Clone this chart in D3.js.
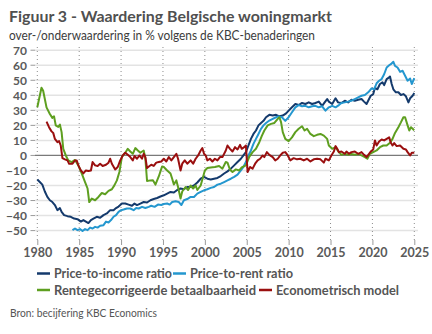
<!DOCTYPE html>
<html><head><meta charset="utf-8">
<script src="https://cdn.jsdelivr.net/npm/d3@7"></script>
<style>
html,body{margin:0;padding:0;background:#fff;}
svg{display:block;font-family:Lato,"Open Sans",sans-serif;}
</style></head>
<body><svg id="c" width="432" height="334"></svg>
<script>
// ---- data (year, % over-/undervaluation) ----
const priceToIncome = [[1980,-16],[1980.3,-17.7],[1980.6,-19.4],[1980.9,-24],[1981.2,-27.6],[1981.5,-29.8],[1981.8,-31],[1982.1,-33],[1982.4,-36.4],[1982.7,-35],[1982.9,-37.5],[1983.2,-39.7],[1983.6,-40.4],[1984,-40.8],[1984.4,-42],[1984.8,-42.4],[1985.2,-44],[1985.5,-43],[1985.8,-44],[1986.1,-45],[1986.4,-43],[1986.7,-42],[1987.1,-40.8],[1987.5,-41.5],[1987.9,-39.7],[1988.3,-38.6],[1988.7,-36.4],[1989.1,-36.4],[1989.4,-35],[1989.7,-34],[1990.1,-32],[1990.5,-32],[1990.9,-32.7],[1991.3,-33.5],[1991.6,-32],[1991.9,-33],[1992.3,-32],[1992.7,-31],[1993.1,-31.3],[1993.5,-29.8],[1993.9,-29],[1994.3,-28.3],[1994.7,-27.3],[1995.1,-26.5],[1995.5,-25.4],[1995.9,-24.3],[1996.3,-24.7],[1996.7,-23],[1997.1,-22],[1997.5,-22.5],[1997.9,-21],[1998.3,-21],[1998.7,-20],[1999.1,-18],[1999.5,-15.5],[1999.9,-14.3],[2000.3,-15.5],[2000.7,-16],[2001.1,-15.5],[2001.5,-15],[2001.9,-13.7],[2002.3,-12],[2002.7,-10.6],[2003.1,-8.8],[2003.5,-6.6],[2003.9,-4.4],[2004.3,-2.2],[2004.6,0],[2004.9,2.2],[2005.2,6.6],[2005.5,11],[2005.8,14.3],[2006.1,16.6],[2006.4,20],[2006.7,21.6],[2007,23],[2007.3,25.4],[2007.7,27],[2008.1,26.5],[2008.5,27],[2008.9,26],[2009.3,26.5],[2009.7,28],[2010,29.8],[2010.4,32],[2010.8,34.2],[2011.2,33.5],[2011.6,34.9],[2012,34.2],[2012.4,35.3],[2012.8,34.2],[2013.2,34.9],[2013.6,35.8],[2014,33],[2014.3,35.3],[2014.6,37.5],[2014.8,35.8],[2015.2,34.2],[2015.6,38],[2015.9,35.3],[2016.3,34.9],[2016.7,36.4],[2017.1,35.3],[2017.5,37],[2017.9,36.4],[2018.3,37],[2018.7,37.5],[2019,35.8],[2019.3,34.2],[2019.6,37.5],[2019.8,39.7],[2020.1,40.8],[2020.3,45],[2020.6,44],[2020.9,47.5],[2021.2,48.6],[2021.4,46.8],[2021.7,50.8],[2022,51.9],[2022.1,52.5],[2022.3,47.5],[2022.5,44],[2022.8,42],[2023.1,42],[2023.4,40.2],[2023.7,40.8],[2024,39.3],[2024.3,35.3],[2024.5,38],[2024.8,39.7],[2025,41.5]];
const priceToRent = [[1984.2,-49.7],[1984.5,-48.6],[1984.8,-49.7],[1985.1,-49],[1985.4,-50.3],[1985.7,-49],[1986,-49.7],[1986.3,-48],[1986.6,-48.6],[1986.9,-47.5],[1987.2,-48],[1987.5,-46.8],[1987.9,-46.4],[1988.2,-44],[1988.5,-44.6],[1988.8,-43],[1989.1,-40.8],[1989.4,-39.7],[1989.7,-37.5],[1990,-36.4],[1990.3,-36],[1990.7,-35.3],[1991.1,-35.3],[1991.5,-36.4],[1991.8,-35],[1992.1,-35.3],[1992.5,-34.2],[1992.9,-35],[1993.3,-34.2],[1993.6,-33.5],[1994,-34.2],[1994.4,-32.7],[1994.8,-33],[1995.1,-32.3],[1995.5,-32],[1995.8,-32.7],[1996.1,-31],[1996.5,-30.5],[1996.9,-31],[1997.2,-33],[1997.5,-29.8],[1997.9,-29],[1998.3,-27.6],[1998.7,-27.6],[1999.1,-25.4],[1999.5,-24.3],[1999.9,-23.2],[2000.3,-22.5],[2000.7,-21.6],[2001.1,-21],[2001.5,-19.4],[2001.9,-18.8],[2002.3,-17.7],[2002.7,-16.6],[2003.1,-15.5],[2003.5,-14.3],[2003.9,-12.8],[2004.3,-10],[2004.6,-7.7],[2004.9,-4.4],[2005.2,0],[2005.5,3.3],[2005.8,7.7],[2006.1,11],[2006.4,14.3],[2006.7,17.7],[2007,20],[2007.3,21.6],[2007.7,23.2],[2008.1,24.3],[2008.5,25.4],[2008.8,26],[2009.2,25.4],[2009.6,23],[2010,25.4],[2010.4,28.7],[2010.8,32],[2011.2,33.5],[2011.6,32.7],[2012,33],[2012.4,32],[2012.8,32.7],[2013.2,33],[2013.6,32],[2014,32.7],[2014.4,29.8],[2014.8,32],[2015.2,33],[2015.6,32],[2016,33.5],[2016.3,34.9],[2016.7,35.3],[2017.1,35.8],[2017.5,36.4],[2017.9,37.5],[2018.3,38.6],[2018.7,39.7],[2019.1,40.2],[2019.5,42],[2019.9,44.6],[2020.2,44],[2020.5,48],[2020.8,49.7],[2021.1,50.8],[2021.4,54],[2021.7,58.5],[2022,60],[2022.2,60.7],[2022.5,62.3],[2022.7,59.6],[2023,58.5],[2023.3,55.6],[2023.6,56.3],[2023.9,53],[2024.2,49.7],[2024.5,51.2],[2024.7,47.5],[2025,51.5]];
const affordability = [[1980,32],[1980.5,45],[1980.7,43],[1981.1,32],[1981.5,27.6],[1981.8,25],[1982,26],[1982.2,20],[1982.5,19],[1982.7,20.5],[1982.9,15.5],[1983.1,4.4],[1983.4,0],[1983.7,-3.3],[1984.1,-4.4],[1984.5,-3],[1984.9,-6.6],[1985.3,-12],[1985.7,-17.7],[1986,-22],[1986.2,-31],[1986.5,-28.7],[1986.9,-29.8],[1987.3,-27.6],[1987.7,-25],[1988.1,-25.8],[1988.5,-23.6],[1988.9,-22.5],[1989.2,-19.9],[1989.5,-16.6],[1989.8,-11],[1990.1,-1],[1990.5,1.8],[1990.8,4.4],[1991.1,2.6],[1991.4,1.1],[1991.7,4.9],[1992,3.3],[1992.3,1.8],[1992.7,3.3],[1992.9,-2.2],[1993.1,-17],[1993.5,-16.6],[1993.8,-16.5],[1994.1,-19.4],[1994.5,-14],[1994.9,-7.3],[1995.1,-7.7],[1995.5,-10],[1995.9,-12],[1996.1,-15.5],[1996.3,-19.4],[1996.6,-16.6],[1996.8,-21],[1997.1,-28.7],[1997.3,-24],[1997.7,-21],[1998,-23],[1998.3,-20],[1998.6,-22],[1998.9,-20],[1999.1,-23],[1999.5,-20],[2000,-10],[2000.3,-8.4],[2000.7,-8],[2001.2,-7.7],[2001.7,-7],[2002.1,-8.8],[2002.5,-4.4],[2002.7,-4.8],[2003,-9.5],[2003.3,-11],[2003.7,-9.3],[2004.1,-10],[2004.4,-8],[2004.9,-6.6],[2005.3,-1],[2005.7,2.2],[2006.1,4.4],[2006.5,8.8],[2006.8,13],[2007.1,16.6],[2007.5,20],[2007.9,21],[2008.3,21.6],[2008.7,24.3],[2008.9,25.4],[2009.1,22],[2009.3,15.5],[2009.6,11],[2010,9.5],[2010.4,12],[2010.8,15.5],[2011.2,17.7],[2011.6,19.4],[2011.9,16.6],[2012.2,17.7],[2012.6,14.3],[2013,12.8],[2013.4,13.7],[2013.8,14.3],[2014.2,13.2],[2014.6,11],[2014.8,6.6],[2015.2,4.4],[2015.6,5.5],[2016,2.2],[2016.3,0.4],[2016.7,1.1],[2017.1,0.4],[2017.5,0.9],[2017.9,0.4],[2018.3,1],[2018.7,0],[2019.1,-1.1],[2019.4,-2.2],[2019.7,1.1],[2020.1,2.2],[2020.5,3.3],[2020.9,5.5],[2021.3,6.6],[2021.7,6.6],[2022.1,8.4],[2022.4,11],[2022.7,15],[2023.1,18.8],[2023.4,22],[2023.7,25.4],[2023.9,25.4],[2024.2,20],[2024.4,16.6],[2024.6,18.8],[2024.9,17.2],[2025,16.8]];
const econometric = [[1981.1,22.5],[1981.4,18.8],[1981.7,16],[1981.9,15],[1982.1,11],[1982.4,8.8],[1982.6,9.5],[1982.8,6.6],[1983,-1.8],[1983.3,-2.6],[1983.6,-3.3],[1983.8,-5.5],[1984.2,-5.5],[1984.5,-3.3],[1984.7,-3.3],[1984.9,-6.6],[1985.2,-10],[1985.5,-12],[1985.8,-10],[1986.1,-10.4],[1986.4,-10],[1986.6,-4.4],[1986.9,-6.6],[1987.2,-7],[1987.5,-5.5],[1987.8,-7],[1988.2,-6.2],[1988.5,-4.8],[1988.7,-2.2],[1988.9,-5.5],[1989.3,-9.3],[1989.6,-7.7],[1989.9,-3.3],[1990.2,0],[1990.5,1.8],[1990.8,0.4],[1991.1,-1.1],[1991.4,-3.3],[1991.6,-0.4],[1991.9,-2.2],[1992.2,0],[1992.5,-2.2],[1992.7,1.1],[1992.9,-1.1],[1993.1,-8.4],[1993.4,-7],[1993.6,-6.2],[1993.9,-7],[1994.2,-4.8],[1994.5,-4.4],[1994.8,-4],[1995.1,-2.2],[1995.4,-4],[1995.7,-1.1],[1996,-3.3],[1996.3,-1.1],[1996.6,1.1],[1996.8,-2.2],[1997.1,-10],[1997.3,-5.5],[1997.6,-3.3],[1997.9,-5.5],[1998.3,-3.3],[1998.6,-5.5],[1998.9,-2.2],[1999.2,0],[1999.5,3.3],[1999.7,4.9],[1999.9,1.1],[2000.1,0],[2000.3,-3.3],[2000.6,-2.2],[2000.9,-4],[2001.2,-2.2],[2001.5,-3.3],[2001.8,-1.1],[2002.1,-1.1],[2002.5,3.3],[2002.7,6.6],[2003,4.4],[2003.3,2.6],[2003.6,5.5],[2003.9,4],[2004.2,7],[2004.4,4.4],[2004.7,5.5],[2004.9,6.6],[2005.1,-11],[2005.4,-7.7],[2005.7,-8.8],[2006,-5.5],[2006.3,-3.3],[2006.6,-2.2],[2006.9,0],[2007.1,-1.1],[2007.4,2.2],[2007.7,0.4],[2008.1,-1.1],[2008.4,-3.3],[2008.7,-2.2],[2009,0],[2009.3,1.8],[2009.6,2.2],[2009.9,0],[2010.2,-3.3],[2010.6,-1.8],[2011,-2.6],[2011.4,-2.2],[2011.8,-3.3],[2012.2,-2.2],[2012.6,-4],[2013,-2.6],[2013.4,-2.2],[2013.8,-2.6],[2014.2,-4.8],[2014.4,-2.2],[2014.8,-3.3],[2015.1,0],[2015.4,2.6],[2015.6,6.2],[2015.8,4.4],[2016,2.2],[2016.3,2.6],[2016.7,1.1],[2016.9,2.6],[2017.2,1.1],[2017.5,2.2],[2017.9,2.6],[2018.3,1.1],[2018.7,2.2],[2019,0.4],[2019.3,-1.1],[2019.6,1.1],[2019.8,2.6],[2020.1,4],[2020.3,10],[2020.5,6.6],[2020.8,9.3],[2021.1,10.6],[2021.4,10],[2021.7,11],[2022,12],[2022.2,8.4],[2022.4,6.6],[2022.6,8.2],[2022.9,6.2],[2023.3,6.6],[2023.7,4.4],[2024,4],[2024.2,2.2],[2024.5,0],[2024.7,1.8],[2025,1.8]];

const xTicks = [1980,1985,1990,1995,2000,2005,2010,2015,2020,2025];
const yTicks = [-50,-40,-30,-20,-10,0,10,20,30,40,50,60,70];
const seriesNames = ["Price-to-income ratio","Price-to-rent ratio","Rentegecorrigeerde betaalbaarheid","Econometrisch model"];
const seriesData = [priceToIncome, priceToRent, affordability, econometric];
const seriesColors = ["#143a6c","#2497cf","#5e9f20","#9a0f0f"];

const titleText = "Figuur 3 - Waardering Belgische woningmarkt";
const subtitleText = "over-/onderwaardering in % volgens de KBC-benaderingen";
const sourceText = "Bron: becijfering KBC Economics";

const svg = d3.select("#c");
const x = d3.scaleLinear().domain([1980,2025]).range([37.3,414.3]);
const y = d3.scaleLinear().domain([-50,70]).range([230.6,50.2]);
const plotBottom = 240;

// title
svg.append("text").attr("x",9).attr("y",21.5).attr("fill","#505050")
  .attr("font-size",16).attr("font-weight","bold")
  .attr("textLength",323).attr("lengthAdjust","spacingAndGlyphs").text(titleText);
svg.append("text").attr("x",9).attr("y",40).attr("fill","#3c3c3c")
  .attr("font-size",13)
  .attr("textLength",306).attr("lengthAdjust","spacingAndGlyphs").text(subtitleText);

// horizontal grid
const yAxis = d3.axisLeft(y).tickValues(yTicks).tickSize(0).tickPadding(0).tickFormat(d3.format("d"));
const gy = svg.append("g");
gy.selectAll("line.grid").data(yTicks.filter(d=>d!==0)).join("line")
  .attr("x1",35).attr("x2",418).attr("y1",d=>y(d)).attr("y2",d=>y(d))
  .attr("stroke","#e3e3e3").attr("stroke-width",1.5);
gy.selectAll("line.tk").data(yTicks).join("line")
  .attr("x1",30.5).attr("x2",35).attr("y1",d=>y(d)).attr("y2",d=>y(d))
  .attr("stroke","#9a9a9a").attr("stroke-width",1);
const gya = svg.append("g").attr("transform","translate(27,0)").call(yAxis);
gya.select(".domain").remove();
gya.selectAll("text").attr("fill","#5a5a5a").attr("font-size",12).attr("font-weight","bold")
  .attr("font-family","Lato,'Open Sans',sans-serif").attr("dy","0.36em");

// vertical dotted grid
const gx = svg.append("g");
gx.selectAll("line.v").data(xTicks).join("line")
  .attr("x1",d=>x(d)).attr("x2",d=>x(d)).attr("y1",47).attr("y2",plotBottom)
  .attr("stroke","#8c8c8c").attr("stroke-width",1).attr("stroke-dasharray","1,3");
const xAxis = d3.axisBottom(x).tickValues(xTicks).tickSize(5).tickPadding(3).tickFormat(d3.format("d"));
const gxa = svg.append("g").attr("transform",`translate(0,${plotBottom})`).call(xAxis);
gxa.select(".domain").remove();
gxa.selectAll("line").attr("stroke","#9a9a9a");
gxa.selectAll("text").attr("fill","#5a5a5a").attr("font-size",12.5).attr("font-weight","bold")
  .attr("font-family","Lato,'Open Sans',sans-serif");

// zero line
svg.append("line").attr("x1",35).attr("x2",418).attr("y1",y(0)).attr("y2",y(0))
  .attr("stroke","#7a7a7a").attr("stroke-width",1.2);

// series in legend order (last on top)
const line = d3.line().x(d=>x(d[0])).y(d=>y(d[1]));
[0,1,2,3].forEach(i=>{
  svg.append("path").datum(seriesData[i]).attr("d",line)
    .attr("fill","none").attr("stroke",seriesColors[i]).attr("stroke-width",2)
    .attr("stroke-linejoin","round");
});

// legend
const legendItems = [
  {i:0,x:37,y:273.5,w:118},
  {i:1,x:173,y:273.5,w:103},
  {i:2,x:37,y:290,w:202},
  {i:3,x:259,y:290,w:123}
];
const lg = svg.append("g");
legendItems.forEach(it=>{
  lg.append("line").attr("x1",it.x).attr("x2",it.x+13).attr("y1",it.y).attr("y2",it.y)
    .attr("stroke",seriesColors[it.i]).attr("stroke-width",2.5);
  lg.append("text").attr("x",it.x+17).attr("y",it.y).attr("dy","0.36em")
    .attr("fill","#555").attr("font-size",13).attr("font-weight","bold")
    .attr("textLength",it.w).attr("lengthAdjust","spacingAndGlyphs").text(seriesNames[it.i]);
});

svg.append("text").attr("x",10).attr("y",317).attr("fill","#555").attr("font-size",10.5)
  .attr("textLength",147).attr("lengthAdjust","spacingAndGlyphs").text(sourceText);
</script></body></html>
